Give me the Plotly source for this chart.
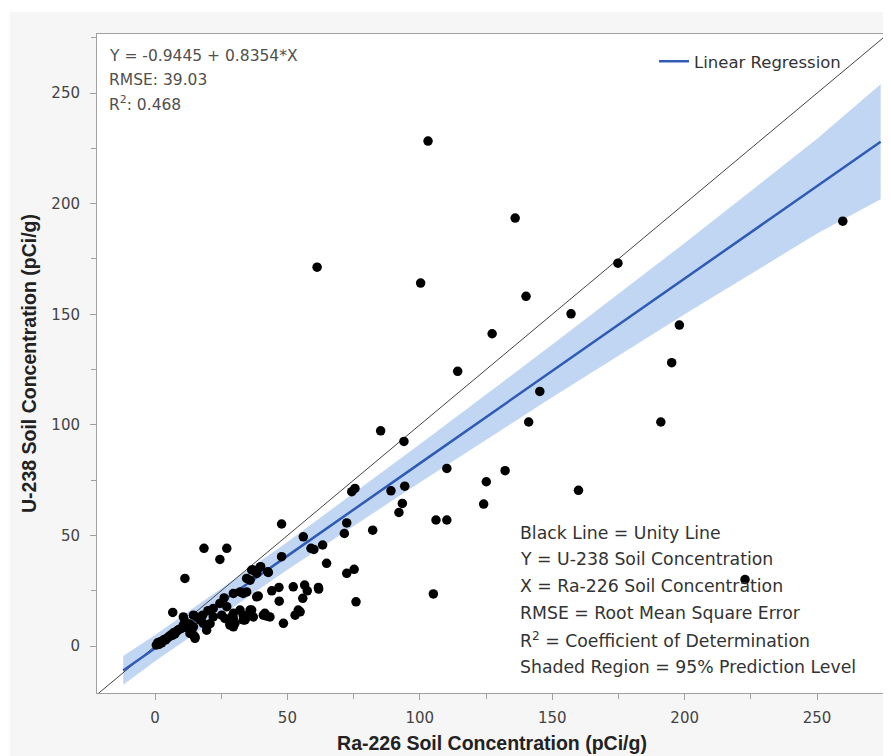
import plotly.graph_objects as go

# Ra-226 (x) vs U-238 (y) soil concentration, pCi/g
ra226 = [
    103.1, 136.0, 259.7, 174.8, 61.2, 100.3, 140.1, 157.1, 127.3, 198.0,
    114.3, 195.1, 145.3, 141.1, 191.0, 94.0, 85.2, 110.2, 74.3, 75.5,
    89.1, 94.3, 93.4, 92.1, 106.1, 110.2, 72.4, 71.5, 82.2, 56.0,
    63.3, 58.9, 60.0, 64.8, 72.4, 75.2, 56.5, 57.5, 55.8, 61.8,
    75.9, 105.1, 54.8, 132.2, 125.1, 159.9, 124.1, 222.8, 47.8, 18.5,
    27.1, 24.5, 47.8, 36.5, 39.9, 42.8, 34.6, 44.1, 46.8, 52.2,
    39.0, 46.9, 29.6, 32.1, 26.1, 54.1, 52.9, 48.5, 41.5, 43.4,
    36.5, 34.6, 33.3, 29.6, 29.0, 30.2, 27.1, 24.5, 11.3, 6.7,
    10.7, 14.5, 11.3, 10.7, 14.5, 15.1, 26.4, 28.3, 29.6, 32.1,
    35.9, 33.3, 34.6, 38.4, 19.5, 20.8, 35.9, 38.4, 37.1, 39.7,
    42.6, 61.7, 33.3, 35.9, 37.1, 34.0, 29.0, 29.6, 28.3, 40.9,
    42.2, 15.1, 13.2, 14.5, 17.0, 18.2, 22.0, 25.2, 0.5, 1.0,
    1.5, 2.0, 2.5, 3.0, 3.5, 4.0, 4.5, 5.0, 5.5, 6.0,
    6.5, 7.0, 7.5, 8.0, 8.5, 9.0, 10.0, 11.0, 12.0, 13.0,
    16.0, 18.0, 20.0, 22.0,
]
u238 = [
    228.3, 193.5, 192.1, 173.1, 171.3, 164.1, 158.1, 150.2, 141.2, 145.1,
    124.2, 128.1, 115.1, 101.3, 101.3, 92.5, 97.3, 80.3, 69.8, 71.3,
    70.2, 72.3, 64.5, 60.4, 57.0, 57.0, 55.7, 50.9, 52.4, 49.4,
    45.7, 44.2, 43.7, 37.4, 32.9, 34.7, 27.6, 25.0, 21.6, 25.8,
    20.0, 23.6, 15.5, 79.3, 74.3, 70.4, 64.2, 30.1, 55.2, 44.2,
    44.2, 39.2, 40.4, 34.4, 35.9, 33.3, 30.6, 25.0, 26.5, 26.8,
    22.6, 20.3, 23.8, 24.5, 21.8, 16.3, 14.0, 10.3, 14.8, 13.2,
    16.3, 13.2, 11.8, 14.8, 11.8, 10.3, 17.8, 19.3, 30.6, 15.2,
    13.2, 14.0, 11.0, 9.5, 5.0, 3.5, 12.5, 9.5, 12.5, 16.3,
    16.3, 23.8, 24.5, 22.3, 7.2, 10.1, 29.8, 32.9, 34.4, 35.6,
    33.6, 26.5, 14.0, 14.8, 13.2, 11.8, 13.2, 8.7, 10.1, 14.0,
    13.6, 4.2, 5.7, 8.7, 11.8, 10.3, 13.2, 14.0, 0.5, 1.5,
    0.8, 2.0, 1.5, 2.5, 3.0, 2.8, 3.5, 4.0, 4.5, 5.0,
    4.8, 6.0, 5.5, 6.5, 7.0, 7.5, 8.0, 8.5, 9.0, 10.0,
    13.0, 14.0, 16.0, 17.0,
]

# regression line (Y = -0.9445 + 0.8354*X) and its shaded band, read at a few x
fit_x = [-12, 0, 50, 100, 150, 200, 250, 274]
fit_y = [-11.0, -0.9, 40.8, 82.6, 124.4, 166.1, 207.9, 228.0]
band_lo = [-17.5, -6.8, 34.5, 74.0, 112.5, 150.0, 186.5, 202.0]
band_hi = [-4.5, 5.0, 47.1, 91.2, 136.3, 182.2, 229.3, 254.0]

unity = [-30, 300]

fig = go.Figure()

fig.add_trace(go.Scatter(x=fit_x, y=band_lo, mode="lines", line=dict(width=0),
                         showlegend=False, hoverinfo="skip"))
fig.add_trace(go.Scatter(x=fit_x, y=band_hi, mode="lines", line=dict(width=0),
                         fill="tonexty", fillcolor="rgba(190,212,242,0.95)",
                         showlegend=False, hoverinfo="skip"))
fig.add_trace(go.Scatter(x=unity, y=unity, mode="lines",
                         line=dict(color="#444444", width=1), showlegend=False))
fig.add_trace(go.Scatter(x=fit_x, y=fit_y, mode="lines", name="Linear Regression",
                         line=dict(color="#2f5bb5", width=2.5)))
fig.add_trace(go.Scatter(x=ra226, y=u238, mode="markers", showlegend=False,
                         marker=dict(color="black", size=9.5, line=dict(width=0))))

# the page adds an 8px body margin, so figure px = reference px - 8
OFF = 8
W, H = 891 - OFF, 756 - OFF
L, T = 97 - OFF, 34 - OFF
R, B = W - (887 - OFF), H - (693 - OFF)
pw, ph = W - L - R, H - T - B


def px_x(p):
    return (p - OFF - L) / pw


def px_y(p):
    return (H - B - (p - OFF)) / ph


FONT = "DejaVu Sans, Verdana"
txt_font = dict(family=FONT, size=15.5, color="#505050")
top_lines = ["Y = -0.9445 + 0.8354*X", "RMSE: 39.03", "R<sup>2</sup>: 0.468"]
for i, t in enumerate(top_lines):
    fig.add_annotation(text=t, xref="paper", yref="paper", x=px_x(107), y=px_y(56 + i * 23.5),
                       xanchor="left", yanchor="middle", showarrow=False, font=txt_font)

key_font = dict(family=FONT, size=17.3, color="#333333")
key_lines = [
    "Black Line = Unity Line",
    "Y = U-238 Soil Concentration",
    "X = Ra-226 Soil Concentration",
    "RMSE = Root Mean Square Error",
    "R<sup>2</sup> = Coefficient of Determination",
    "Shaded Region = 95% Prediction Level",
]
for i, t in enumerate(key_lines):
    fig.add_annotation(text=t, xref="paper", yref="paper", x=px_x(518), y=px_y(532.5 + i * 26.8),
                       xanchor="left", yanchor="middle", showarrow=False, font=key_font)

# white strips around the grey page background
fig.add_shape(type="rect", xref="paper", yref="paper", x0=-0.3, x1=1.1,
              y0=px_y(12), y1=1.2, fillcolor="white", line_width=0, layer="below")
fig.add_shape(type="rect", xref="paper", yref="paper", x0=-0.3, x1=px_x(10),
              y0=-0.2, y1=1.2, fillcolor="white", line_width=0, layer="below")

axis_common = dict(
    showgrid=False, zeroline=False, showline=True, linecolor="#a0a0a0", linewidth=1,
    mirror=True, ticks="outside", ticklen=6, tickcolor="#a0a0a0",
    tickfont=dict(family=FONT, size=15, color="#444444"),
    dtick=50, minor=dict(dtick=25, ticks="outside", ticklen=5, tickcolor="#a0a0a0"),
)
title_font = dict(family="Liberation Sans, Arial", size=19.5, color="#222222")

fig.update_xaxes(range=[-21.9, 276.4], tick0=0, ticklabelstandoff=5,
                 title=dict(text="<b>Ra-226 Soil Concentration (pCi/g)</b>", standoff=10,
                            font=title_font),
                 **axis_common)
fig.update_yaxes(range=[-21.2, 276.7], tick0=0, ticklabelstandoff=7,
                 title=dict(text="<b>U-238 Soil Concentration (pCi/g)</b>", standoff=9,
                            font=title_font),
                 **axis_common)

fig.update_layout(
    width=W, height=H,
    margin=dict(l=L, r=R, t=T, b=B, autoexpand=False),
    paper_bgcolor="#f6f6f6", plot_bgcolor="white",
    legend=dict(x=px_x(654), y=px_y(44), xanchor="left", yanchor="top",
                bgcolor="rgba(0,0,0,0)",
                font=dict(family=FONT, size=16.5, color="#333333")),
)

fig.write_html("out.html")
